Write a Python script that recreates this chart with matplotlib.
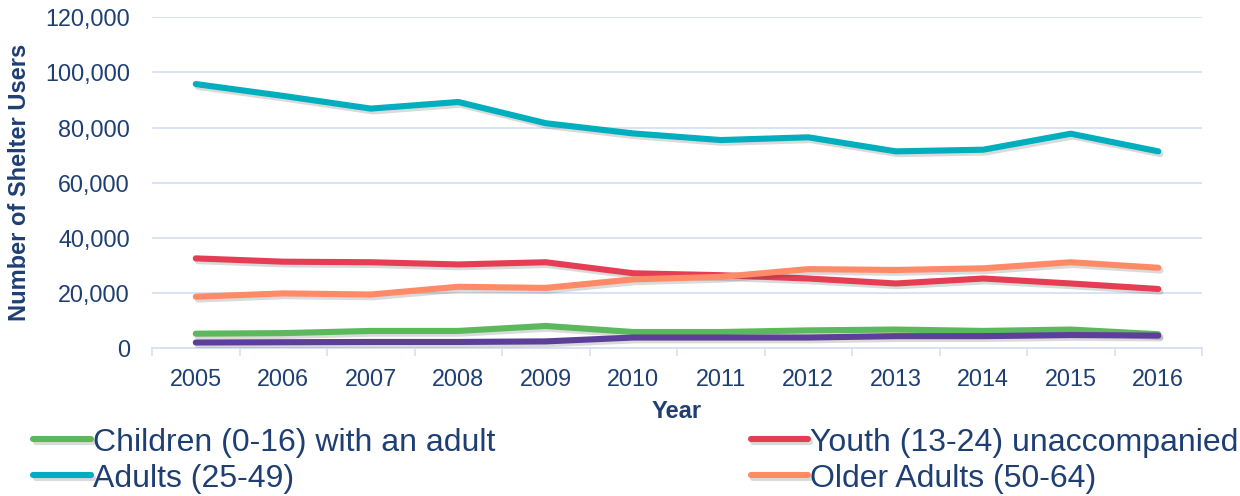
import numpy as np
import matplotlib.pyplot as plt
import matplotlib.patheffects as pe
from matplotlib.ticker import FuncFormatter

plt.rcParams['font.family'] = ['Liberation Sans', 'DejaVu Sans']

years = [2005, 2006, 2007, 2008, 2009, 2010, 2011, 2012, 2013, 2014, 2015, 2016]
children = [5300, 5500, 6300, 6300, 8100, 5900, 5900, 6500, 6800, 6300, 6800, 5100]
youth = [32600, 31400, 31200, 30400, 31200, 27200, 26500, 25300, 23500, 25300, 23500, 21500]
adults = [95800, 91500, 86900, 89300, 81600, 77900, 75500, 76500, 71400, 72000, 77800, 71400]
older = [18700, 19900, 19500, 22300, 21900, 25000, 25900, 28700, 28400, 29000, 31200, 29200]
seniors = [2100, 2200, 2300, 2300, 2500, 3900, 3900, 3900, 4400, 4400, 4800, 4600]

navy = '#1F3F73'
grid_c = '#D6E1F2'

fig = plt.figure(figsize=(12.4, 4.96), dpi=100)
ax = fig.add_axes([0.1226, 0.2978, 0.8468, 0.6673])

shadow = [pe.SimpleLineShadow(offset=(1.5, -2), alpha=0.18, shadow_color='#333333'), pe.Normal()]
series = [
    (children, '#5CB85C', 'Children (0-16) with an adult'),
    (adults, '#00AEBD', 'Adults (25-49)'),
    (youth, '#E53E54', 'Youth (13-24) unaccompanied'),
    (older, '#FF8A68', 'Older Adults (50-64)'),
]
handles = []
for vals, col, lab in series:
    h, = ax.plot(years, vals, color=col, lw=4.4, solid_capstyle='round',
                 solid_joinstyle='round', path_effects=shadow, label=lab, zorder=3)
    handles.append(h)
# seniors line sits at the bottom, not in the legend
ax.plot(years, seniors, color='#5B3F99', lw=4.4, solid_capstyle='round',
        solid_joinstyle='round', path_effects=shadow, zorder=3)

ax.set_xlim(2004.5, 2016.5)
ax.set_ylim(0, 120000)
ax.set_yticks(np.arange(0, 120001, 20000))
ax.yaxis.set_major_formatter(FuncFormatter(lambda v, p: f'{int(v):,}'))
ax.set_xticks(years)
ax.set_xticks(np.arange(2004.5, 2017, 1), minor=True)
ax.tick_params(axis='x', which='major', length=0, pad=14, labelsize=16.8, labelcolor=navy)
ax.tick_params(axis='x', which='minor', length=6, width=1.2, color=grid_c, direction='out')
ax.tick_params(axis='y', length=0, pad=16, labelsize=16.8, labelcolor=navy)

ax.grid(axis='y', color=grid_c, lw=1.3, zorder=0)
for s in ['top', 'right', 'left']:
    ax.spines[s].set_visible(False)
ax.spines['bottom'].set_color(grid_c)
ax.spines['bottom'].set_linewidth(1.3)

ax.set_xlabel('Year', fontsize=17, fontweight='bold', color=navy, labelpad=7)
ax.set_ylabel('Number of Shelter Users', fontsize=17, fontweight='bold', color=navy, labelpad=10)

leg = fig.legend(handles=handles, ncol=2, loc='upper left', bbox_to_anchor=(0.027, 0.138),
                 frameon=False, fontsize=23, handlelength=1.8, handletextpad=0.06,
                 columnspacing=8.0, labelspacing=0.19, borderpad=0, borderaxespad=0)
for t in leg.get_texts():
    t.set_color(navy)

fig.savefig('out.png', dpi=100)
